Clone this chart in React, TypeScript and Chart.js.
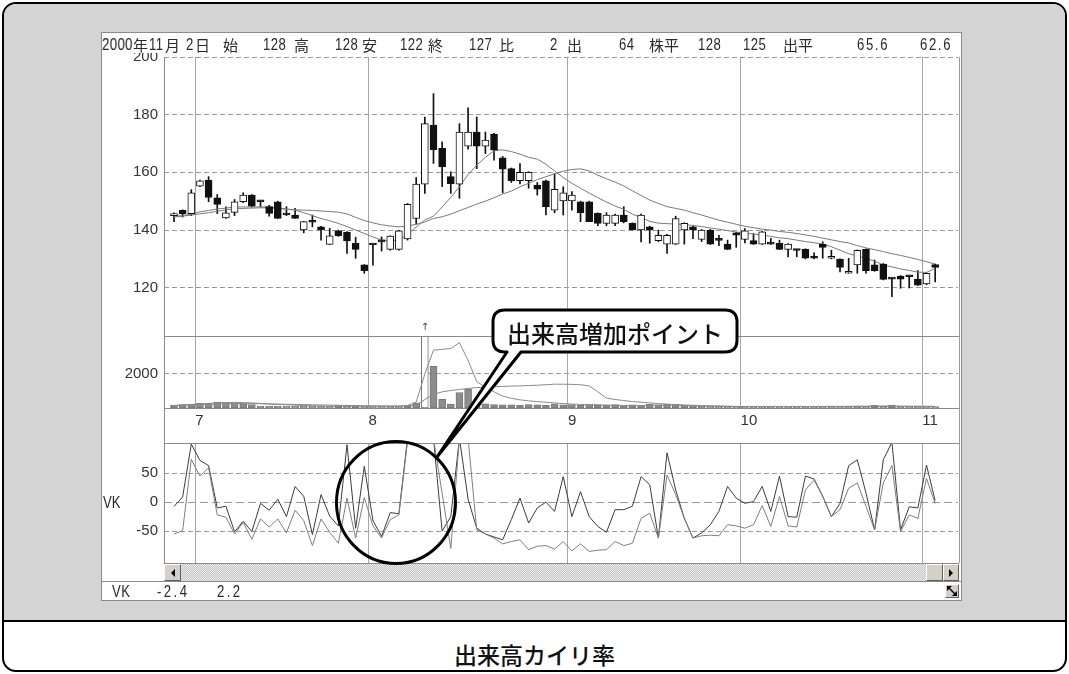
import React, { useEffect, useRef } from 'react';
import { Chart, registerables } from 'chart.js';
Chart.register(...registerables);

// ---------- data ----------
const OPEN = [
  145.0, 146.8, 145.7, 155.2, 157.3, 151.2, 144.2, 146.1, 149.8, 152.1,
  150.0, 148.1, 149.8, 145.5, 145.2, 140.0, 142.9, 141.1, 135.0, 139.7,
  139.2, 135.4, 127.9, 135.0, 136.2, 133.3, 133.3, 136.9, 144.0, 155.9,
  176.4, 168.3, 158.5, 155.9, 169.1, 174.0, 169.1, 173.2, 165.0, 161.3,
  157.1, 157.1, 155.6, 157.1, 146.9, 150.1, 150.1, 149.8, 149.8, 145.8,
  142.3, 142.3, 145.2, 142.3, 140.0, 141.1, 136.3, 135.1, 135.1, 140.0,
  141.1, 136.7, 140.0, 136.7, 135.1, 139.0, 136.7, 136.3, 135.1, 135.5,
  135.4, 133.3, 133.2, 133.3, 131.0, 135.0, 130.2, 129.9, 125.0, 127.9,
  133.3, 127.9, 128.2, 123.2, 124.0, 124.1, 123.0, 121.3, 128.0,
];
const HIGH = [
  146.0, 147.0, 154.0, 157.3, 158.5, 152.3, 148.0, 150.6, 152.9, 152.3,
  150.2, 148.6, 150.0, 148.1, 147.5, 143.0, 145.2, 141.3, 140.6, 140.0,
  139.5, 137.5, 128.0, 135.2, 137.6, 138.0, 139.9, 149.2, 158.2, 179.2,
  187.3, 170.6, 160.2, 176.9, 182.4, 179.2, 174.0, 173.5, 165.5, 161.5,
  163.0, 160.2, 156.5, 157.3, 159.6, 155.0, 153.3, 150.0, 150.0, 146.0,
  146.0, 145.5, 148.1, 142.5, 145.5, 141.3, 140.0, 138.5, 144.8, 142.5,
  141.3, 140.2, 140.2, 138.2, 136.5, 139.2, 140.5, 138.8, 139.6, 137.1,
  136.5, 135.3, 133.3, 133.5, 132.1, 135.9, 133.0, 130.0, 130.2, 133.1,
  133.5, 129.6, 128.4, 123.3, 124.2, 124.2, 125.9, 125.2, 128.2,
];
const LOW = [
  142.9, 144.5, 145.0, 155.0, 149.8, 145.7, 144.0, 145.0, 149.5, 148.0,
  148.0, 144.8, 144.0, 145.0, 144.0, 139.0, 141.1, 136.5, 135.0, 137.8,
  131.9, 130.2, 125.0, 127.8, 132.7, 133.0, 133.0, 136.5, 142.0, 152.7,
  163.1, 155.0, 152.7, 151.0, 168.0, 161.3, 166.5, 164.2, 152.9, 156.5,
  156.0, 154.5, 152.1, 145.2, 146.0, 145.2, 146.9, 142.9, 142.9, 141.5,
  141.5, 141.5, 142.5, 140.0, 135.9, 135.4, 136.0, 131.9, 135.0, 135.1,
  137.0, 136.0, 135.0, 134.6, 133.2, 134.0, 135.5, 135.0, 135.0, 135.0,
  133.2, 130.7, 130.7, 130.0, 130.0, 130.2, 130.0, 125.5, 125.0, 125.0,
  125.0, 125.7, 122.7, 116.9, 119.8, 119.9, 120.8, 121.0, 122.0,
];
const CLOSE = [
  145.3, 145.6, 152.9, 157.1, 151.3, 148.9, 146.0, 149.8, 152.1, 148.3,
  149.8, 145.8, 144.0, 145.2, 144.0, 142.9, 142.7, 140.0, 138.0, 138.0,
  136.2, 133.3, 125.9, 134.8, 135.9, 137.9, 139.7, 148.9, 155.9, 176.9,
  167.9, 161.9, 156.1, 174.0, 174.0, 169.1, 171.2, 167.7, 161.1, 157.1,
  160.0, 160.0, 154.2, 148.1, 154.1, 152.9, 152.1, 146.0, 142.9, 142.3,
  145.2, 145.2, 142.9, 140.0, 145.2, 140.0, 138.2, 138.2, 144.0, 142.3,
  140.0, 140.0, 135.1, 136.4, 133.3, 138.2, 139.7, 135.1, 139.4, 135.1,
  133.3, 135.1, 132.9, 130.2, 130.2, 134.0, 130.7, 127.0, 125.3, 133.0,
  125.9, 125.9, 122.9, 123.0, 123.0, 123.8, 120.9, 125.0, 127.0,
];
const MA_SHORT = [
  144.8, 145.0, 145.5, 146.3, 146.8, 147.3, 147.6, 148.0, 148.0, 148.0,
  148.0, 148.0, 147.7, 147.3, 146.9, 146.0, 145.0, 144.0, 143.2, 142.3,
  141.2, 140.0, 138.8, 137.6, 136.5, 136.3, 136.5, 138.5, 141.0, 143.5,
  144.8, 148.0, 151.3, 155.0, 159.2, 162.5, 165.2, 167.5, 167.8, 167.2,
  166.3, 165.2, 164.6, 162.8, 160.5, 158.2, 156.2, 154.5, 152.8, 151.2,
  149.7, 148.3, 147.2, 145.5, 144.3, 143.0, 142.4, 142.2, 142.1, 141.9,
  141.6, 141.2, 140.7, 140.3, 139.8, 139.3, 139.0, 138.6, 138.3, 137.8,
  137.3, 137.0, 136.5, 136.0, 135.6, 135.2, 134.2, 133.0, 131.8, 131.0,
  130.2, 129.2, 127.9, 127.2, 126.5, 126.0, 125.4, 125.3, 126.7,
];
const MA_LONG = [
  144.5, 144.8, 145.2, 145.6, 146.0, 146.5, 147.0, 147.3, 147.5, 147.6,
  147.7, 147.7, 147.5, 147.2, 147.0, 146.9, 146.8, 146.6, 146.4, 146.2,
  145.6, 144.4, 143.3, 142.5, 141.8, 141.4, 141.1, 141.4, 142.0, 142.8,
  144.0, 144.6, 145.5, 146.7, 147.8, 149.0, 150.0, 151.2, 152.5, 153.5,
  155.0, 156.2, 157.5, 158.5, 159.5, 160.4, 161.0, 161.2, 160.5, 159.0,
  157.8, 156.6, 155.3, 153.6, 152.0, 150.4, 149.2, 148.1, 147.5, 146.9,
  146.0, 145.2, 144.3, 143.4, 142.7, 142.0, 141.3, 140.8, 140.3, 140.0,
  139.5, 139.2, 138.8, 138.3, 137.8, 137.2, 136.6, 136.0, 135.5, 134.6,
  133.8, 133.2, 132.5, 131.8, 131.2, 130.5, 129.8, 129.0, 128.2,
];
const VOLUME = [
  160, 196, 196, 275, 275, 353, 314, 275, 235, 196,
  118, 118, 118, 100, 100, 100, 100, 100, 100, 160,
  100, 160, 100, 80, 80, 80, 100, 150, 310, 9000,
  2450, 510, 230, 910, 1120, 480, 240, 200, 180, 180,
  160, 200, 180, 160, 250, 180, 200, 160, 200, 150,
  170, 200, 150, 180, 160, 220, 180, 220, 200, 150,
  130, 120, 100, 110, 100, 90, 80, 90, 80, 100,
  90, 80, 90, 100, 80, 90, 110, 90, 100, 120,
  100, 150, 110, 170, 90, 100, 80, 90, 80,
];
const VOL_MA_SHORT = [
  150, 180, 210, 240, 270, 300, 320, 330, 320, 300,
  270, 240, 210, 190, 170, 150, 130, 120, 110, 110,
  110, 110, 110, 110, 110, 110, 110, 150, 350, 2000,
  3400, 3450, 3500, 3850, 2800, 1550, 1220, 950, 700, 570,
  480, 420, 380, 340, 300, 260, 235, 210, 200, 190,
  170, 150, 140, 140, 150, 160, 170, 180, 170, 150,
  130, 120, 110, 100, 100, 95, 90, 90, 90, 90,
  90, 90, 90, 90, 90, 90, 95, 95, 100, 100,
  105, 110, 110, 110, 105, 100, 95, 90, 90,
];
const VOL_MA_LONG = [
  140, 160, 180, 200, 220, 240, 250, 260, 260, 255,
  250, 240, 230, 220, 210, 200, 190, 180, 170, 160,
  150, 140, 130, 125, 120, 115, 115, 120, 150, 500,
  800, 950, 1030, 1090, 1150, 1200, 1230, 1250, 1270, 1290,
  1300, 1320, 1340, 1370, 1400, 1400, 1390, 1370, 1300, 950,
  580, 500, 440, 380, 340, 300, 260, 230, 200, 180,
  160, 140, 130, 120, 100, 90, 90, 90, 90, 90,
  90, 90, 90, 90, 90, 90, 90, 90, 90, 95,
  95, 100, 100, 100, 100, 100, 100, 100, 100,
];
const VK_A = [
  -7.5, 9, 100, 72, 63, -10, -7, -51, -33, -51,
  -2, -14, 5, -25, 27, 10, -56, 13, -24, -41,
  99, -45, 62, -32, -59, -18, -20, 110, 115, 120,
  110, -50, -25, 110, 5, -45, -55, -60, -65, -30,
  7, -36, -10, 0, -16, 44, -25, 18, -25, -42,
  -52, -13, -13, -7, 44, 30, -62, 85, 21, -28,
  -62, -53, -39, -16, 27, 7, -2, 1, 27, -16,
  45, -25, -26, 45, 40, 10, -25, -2, 63, 73,
  16, -48, 73, 103, -48, -8, -10, 64, 2.2,
];
const VK_B = [
  -55, -49, 74, 45, 59, -22, -26, -55, -35, -64,
  -29, -43, -29, -53, -14, -32, -75, -29, -52, -71,
  7, -62, 8, -41, -62, -30, -22, 105, 110, 115,
  110, 15, -80, 110, 110, -48, -55, -62, -72, -68,
  -65, -82, -76, -75, -81, -68, -84, -72, -85, -83,
  -82, -68, -75, -71, -28, -19, -62, 47, 13, -28,
  -62, -58, -57, -58, -39, -41, -45, -39, -6, -42,
  10, -41, -43, 21, 38, 10, -25, -13, 24, 33,
  -7, -48, 33, 63, -51, -22, -28, 41, -2.4,
];
const MONTH_POS = [2.45, 22.5, 45.55, 65.5, 86.5];
const MONTH_LABELS = ['7', '8', '9', '10', '11'];
const PRICE_TICKS = [120, 140, 160, 180, 200];
const VOL_TICKS = [2000];
const VK_TICKS = [-50, 0, 50];
const HEADER_TEXTS = ['2000', '年', '11', '月', '2', '日', '始', '128', '高', '128', '安', '122', '終', '127', '比', '2', '出',
  '64', '株平', '128', '125', '出平', '65.6', '62.6'];
const STATUS_TEXTS = ['VK', '-2.4', '2.2'];
const CALLOUT_TEXT = '出来高増加ポイント';
const CAPTION_TEXT = '出来高カイリ率';

// ---------- layout / style ----------
const HEADER_X = [102, 133, 149, 165, 186, 195, 223, 263, 294, 335, 362, 400, 428, 469, 499, 550, 567,
  619, 649, 698, 743, 783, 857, 920];
const STATUS_X = [112, 157, 217];
const NUM_FAMILY = "'Liberation Sans', Arial, sans-serif";
const JP_FAMILY = "'Noto Sans CJK JP', 'Noto Sans CJK SC', sans-serif";
const NUM_FONT = { family: NUM_FAMILY, size: 15 };
const X_MIN = -1.156;
const X_MAX = 90.64;
const GRAY_BG = '#d4d4d4';
const isNum = (t: string) => /^[-0-9.]+$/.test(t) || /^[A-Z]+$/.test(t);

function xAxis(showLabels: boolean, h: number): any {
  return {
    type: 'linear', min: X_MIN, max: X_MAX, offset: false,
    afterBuildTicks: (s: any) => { s.ticks = MONTH_POS.map((v) => ({ value: v })); },
    ticks: {
      display: showLabels, autoSkip: false, maxRotation: 0, minRotation: 0, align: 'start', padding: 4,
      font: NUM_FONT, color: '#333',
      callback: (_v: any, i: number) => MONTH_LABELS[i],
    },
    grid: { color: '#a6a6a6', lineWidth: 1, drawTicks: false, offset: false },
    border: { display: false },
    afterFit: (s: any) => { s.height = h; s.paddingLeft = 0; s.paddingRight = 0; },
  };
}

function yAxis(min: number, max: number, ticks: number[], dash: any): any {
  return {
    type: 'linear', position: 'left', min, max,
    afterBuildTicks: (s: any) => { s.ticks = ticks.map((v) => ({ value: v })); },
    ticks: { font: NUM_FONT, color: '#333', padding: 6, autoSkip: false, callback: (v: any) => String(v) },
    grid: { color: '#9a9a9a', lineWidth: 1, drawTicks: false },
    border: { display: false, dash },
    afterFit: (s: any) => { s.width = 63; s.paddingTop = 0; s.paddingBottom = 0; },
  };
}

function baseOptions(pad: any): any {
  return {
    animation: false, responsive: false, maintainAspectRatio: false, events: [],
    layout: { padding: pad },
    plugins: { legend: { display: false }, tooltip: { enabled: false } },
  };
}

const abs = (left: number, top: number, extra: any = {}): any => ({ position: 'absolute', left, top, ...extra });

export default function App() {
  const priceRef = useRef<HTMLCanvasElement>(null);
  const volRef = useRef<HTMLCanvasElement>(null);
  const vkRef = useRef<HTMLCanvasElement>(null);

  useEffect(() => {
    const idx = OPEN.map((_, i) => i);
    const charts: Chart[] = [];
    const VOL_MAX = 4235;

    charts.push(new Chart(priceRef.current as HTMLCanvasElement, {
      type: 'bar',
      data: {
        datasets: [
          { type: 'bar', data: idx.map((i) => ({ x: i, y: [LOW[i], HIGH[i]] })), backgroundColor: '#111',
            borderWidth: 0, barThickness: 1, grouped: false, order: 3 } as any,
          { type: 'line', data: idx.map((i) => ({ x: i, y: MA_SHORT[i] })), borderColor: '#7a7a7a', borderWidth: 1,
            pointRadius: 0, tension: 0, order: 2 } as any,
          { type: 'line', data: idx.map((i) => ({ x: i, y: MA_LONG[i] })), borderColor: '#7a7a7a', borderWidth: 1,
            pointRadius: 0, tension: 0, order: 2 } as any,
          { type: 'bar', data: idx.map((i) => ({ x: i, y: [OPEN[i], CLOSE[i]] })),
            backgroundColor: idx.map((i) => (CLOSE[i] >= OPEN[i] ? '#ffffff' : '#111111')),
            borderColor: '#111', borderWidth: 1, borderSkipped: false, barThickness: 7, minBarLength: 2,
            grouped: false, order: 1 } as any,
        ],
      },
      options: {
        ...baseOptions({ top: 4, right: 4, bottom: 1, left: 0 }),
        scales: { x: xAxis(false, 0), y: yAxis(103.25, 200, PRICE_TICKS, [5, 3]) },
      },
    }));

    charts.push(new Chart(volRef.current as HTMLCanvasElement, {
      type: 'bar',
      data: {
        datasets: [
          { type: 'line', data: idx.map((i) => ({ x: i, y: VOL_MA_SHORT[i] })), borderColor: '#8a8a8a', borderWidth: 1,
            pointRadius: 0, tension: 0, order: 1 } as any,
          { type: 'line', data: idx.map((i) => ({ x: i, y: VOL_MA_LONG[i] })), borderColor: '#8a8a8a', borderWidth: 1,
            pointRadius: 0, tension: 0, order: 1 } as any,
          { type: 'bar', data: idx.map((i) => ({ x: i, y: VOLUME[i] })),
            backgroundColor: VOLUME.map((v) => (v > VOL_MAX ? '#ffffff' : '#8c8c8c')),
            borderColor: '#777777', borderWidth: 1, borderSkipped: false, barThickness: 7, grouped: false, order: 2 } as any,
        ],
      },
      options: {
        ...baseOptions({ top: 0, right: 4, bottom: 1, left: 0 }),
        scales: { x: xAxis(true, 35), y: yAxis(0, VOL_MAX, VOL_TICKS, [5, 3]) },
      },
    }));

    charts.push(new Chart(vkRef.current as HTMLCanvasElement, {
      type: 'line',
      data: {
        datasets: [
          { data: idx.map((i) => ({ x: i, y: VK_B[i] })), borderColor: '#7e7e7e', borderWidth: 1, pointRadius: 0, tension: 0 },
          { data: idx.map((i) => ({ x: i, y: VK_A[i] })), borderColor: '#3c3c3c', borderWidth: 1, pointRadius: 0, tension: 0 },
        ],
      },
      options: {
        ...baseOptions({ top: 0, right: 4, bottom: 1, left: 0 }),
        scales: {
          x: xAxis(false, 0),
          y: yAxis(-105, 102, VK_TICKS, (ctx: any) => (ctx.tick && ctx.tick.value === 0 ? [8, 4] : [5, 3])),
        },
      },
    } as any));

    return () => charts.forEach((c) => c.destroy());
  }, []);

  const hLine = (x: number, y: number, w: number, color = '#8a8a8a') => (
    <div style={abs(x, y, { width: w, height: 1, background: color, zIndex: 3 })} />
  );
  const vLine = (x: number, y: number, h: number, color = '#8a8a8a') => (
    <div style={abs(x, y, { width: 1, height: h, background: color, zIndex: 3 })} />
  );
  const btn3d: any = {
    background: '#d4d0c8', boxSizing: 'border-box',
    borderTop: '1px solid #ffffff', borderLeft: '1px solid #ffffff',
    borderRight: '1px solid #606060', borderBottom: '1px solid #606060',
    zIndex: 4, display: 'flex', alignItems: 'center', justifyContent: 'center',
  };
  const narrowText = (t: string, x: number, y: number, key: string, spacing = 0) => (
    <div key={key} style={abs(x, y, { fontFamily: NUM_FAMILY, fontSize: 16, lineHeight: '16px', color: '#2a2a2a',
      whiteSpace: 'pre', letterSpacing: spacing + 'px', transform: 'scaleX(0.82)', transformOrigin: '0 0', zIndex: 3 })}>{t}</div>
  );

  return (
    <div style={abs(0, 0, { width: 1069, height: 674, background: '#fff', overflow: 'hidden', fontFamily: JP_FAMILY })}>
      {/* outer rounded frame */}
      <div style={abs(2, 2, { width: 1065, height: 670, border: '2px solid #000', borderRadius: 14, boxSizing: 'border-box', overflow: 'hidden', background: '#fff' })}>
        <div style={abs(0, 0, { width: '100%', height: 618, background: GRAY_BG, borderBottom: '2px solid #000', boxSizing: 'border-box' })} />
      </div>
      <div style={abs(0, 640, { width: 1069, height: 28, lineHeight: '28px', textAlign: 'center', fontSize: 23, fontWeight: 500, color: '#111', fontFamily: JP_FAMILY })}>
        {CAPTION_TEXT}
      </div>

      {/* chart window */}
      <div style={abs(101, 32, { width: 861, height: 569, background: '#fff', border: '1px solid #8c8c8c', boxSizing: 'border-box' })} />

      {/* header */}
      {HEADER_TEXTS.map((t, i) => (isNum(t)
        ? narrowText(t, HEADER_X[i], 37, 'h' + i, t.includes('.') ? 2 : 0.5)
        : (
          <div key={'h' + i} style={abs(HEADER_X[i], 37, { fontFamily: JP_FAMILY, fontSize: 15, lineHeight: '16px', color: '#2a2a2a', whiteSpace: 'pre', zIndex: 3 })}>{t}</div>
        )))}

      <canvas ref={priceRef} width={861} height={284} style={abs(101, 53, { zIndex: 2 })} />
      <canvas ref={volRef} width={861} height={108} style={abs(101, 336, { zIndex: 2 })} />
      <canvas ref={vkRef} width={861} height={121} style={abs(101, 443, { zIndex: 2 })} />

      {/* panel borders */}
      {vLine(164, 57, 506)}
      {vLine(959, 57, 506, '#9a9a9a')}
      {hLine(164, 336, 795)}
      {hLine(164, 408, 795)}
      {hLine(164, 443, 795)}
      {hLine(102, 581, 859)}

      {narrowText('VK', 103, 495, 'vk')}
      <div style={abs(419, 321, { width: 12, textAlign: 'center', fontFamily: "'DejaVu Sans', sans-serif", fontSize: 10, lineHeight: '12px', color: '#444', zIndex: 3 })}>↑</div>

      {/* scrollbar */}
      <div style={abs(164, 563, { width: 795, height: 18, boxSizing: 'border-box', borderTop: '1px solid #8a8a8a', zIndex: 3,
        backgroundImage: 'repeating-conic-gradient(#c4c4c4 0% 25%, #ececec 0% 50%)', backgroundSize: '2px 2px' })} />
      <div style={abs(164, 564, { width: 17, height: 17, ...btn3d })}>
        <svg width="6" height="8"><polygon points="5,0 5,8 1,4" fill="#000" /></svg>
      </div>
      <div style={abs(926, 564, { width: 17, height: 17, ...btn3d })} />
      <div style={abs(943, 564, { width: 16, height: 17, ...btn3d })}>
        <svg width="6" height="8"><polygon points="1,0 1,8 5,4" fill="#000" /></svg>
      </div>

      {/* status bar */}
      {STATUS_TEXTS.map((t, i) => narrowText(t, STATUS_X[i], 584, 's' + i, i > 0 ? 3 : 0.5))}
      <div style={abs(945, 584, { width: 14, height: 14, ...btn3d })}>
        <svg width="12" height="12">
          <line x1="2.5" y1="2.5" x2="9.5" y2="9.5" stroke="#000" strokeWidth="1.4" />
          <polygon points="1,1 6,1 1,6" fill="#000" />
          <polygon points="11,11 6,11 11,6" fill="#000" />
        </svg>
      </div>

      {/* annotations */}
      <svg width={1069} height={674} style={abs(0, 0, { zIndex: 5, pointerEvents: 'none' })}>
        <ellipse cx={396} cy={502.5} rx={59.5} ry={61} fill="none" stroke="#000" strokeWidth={3} />
        <path d="M 505 310 H 725 Q 737 310 737 322 V 340 Q 737 352 725 352 H 521 L 437 457 L 507 352 H 505 Q 493 352 493 340 V 322 Q 493 310 505 310 Z"
          fill="#fff" stroke="#000" strokeWidth={3} strokeLinejoin="round" />
        <text x={615} y={332} textAnchor="middle" dominantBaseline="central" fontSize={24} fontWeight={500}
          fontFamily={JP_FAMILY} fill="#111">{CALLOUT_TEXT}</text>
      </svg>
    </div>
  );
}
